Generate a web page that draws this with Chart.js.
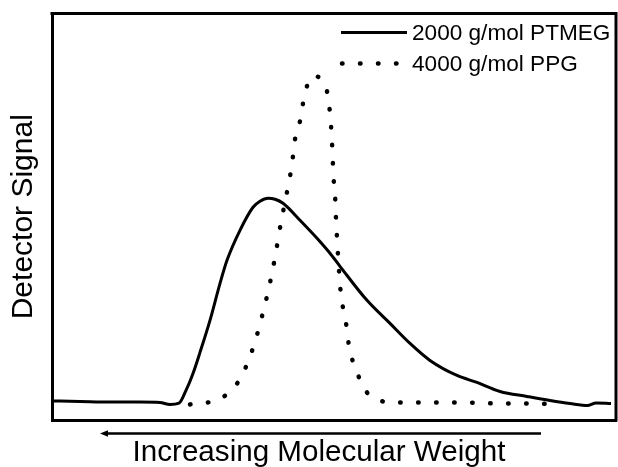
<!DOCTYPE html>
<html>
<head>
<meta charset="utf-8">
<script src="https://cdn.jsdelivr.net/npm/chart.js@4/dist/chart.umd.min.js"></script>
<style>
  html, body { margin: 0; padding: 0; background: #fff; }
  #wrap { width: 618px; height: 467px; position: relative; }
</style>
</head>
<body>
<div id="wrap"><canvas id="c" width="618" height="467"></canvas></div>
<script>
// Elution axis (arbitrary units, 0 = left edge, 100 = right edge) and detector signal (arbitrary units)
const ptmegX = [0.0, 4.96, 10.28, 15.6, 19.15, 20.92, 22.52, 23.76, 25.0, 26.24, 28.01, 29.79, 31.03, 33.33, 35.64, 36.88, 38.3, 39.54, 40.96, 43.97, 46.99, 49.29, 51.06, 55.85, 59.93, 63.48, 67.02, 71.81, 75.35, 79.43, 84.22, 88.3, 91.84, 95.04, 96.45, 99.11];
const ptmegY = [4.68, 4.56, 4.43, 4.43, 4.31, 3.82, 4.14, 7.27, 11.45, 16.63, 24.51, 33.62, 39.29, 46.67, 52.34, 53.82, 54.56, 54.31, 53.33, 49.14, 44.7, 41.01, 37.81, 29.43, 23.77, 18.84, 14.66, 10.96, 9.24, 7.02, 5.79, 4.8, 4.06, 3.57, 4.19, 4.06];

const ppgX = [24.47, 29.43, 32.45, 34.57, 36.17, 37.41, 38.48, 39.54, 40.6, 41.49, 42.55, 43.09, 43.97, 44.68, 46.1, 48.23, 49.29, 49.65, 49.91, 50.18, 50.35, 50.71, 51.24, 51.77, 52.3, 52.66, 53.55, 55.85, 58.16, 60.82, 66.31, 72.87, 79.61, 85.82, 89.18];
const ppgY = [3.82, 5.05, 8.25, 13.67, 20.07, 26.48, 32.64, 40.02, 48.65, 54.8, 62.93, 69.09, 73.52, 79.19, 84.61, 83.13, 75.49, 68.1, 59.73, 55.54, 49.63, 40.52, 30.67, 26.48, 22.29, 18.1, 13.67, 6.77, 4.8, 4.31, 4.31, 4.31, 4.06, 4.06, 3.82];

const seriesLabels = ['2000 g/mol PTMEG', '4000 g/mol PPG'];
const xTitle = 'Increasing Molecular Weight';
const yTitle = 'Detector Signal';

const toPts = (xs, ys) => xs.map((x, i) => ({ x: x, y: ys[i] }));
const DOT_DASH = [0.5, 17.5];

const frameAndExtras = {
  id: 'frameAndExtras',
  afterDraw(chart) {
    const ctx = chart.ctx;
    const a = chart.chartArea;
    ctx.save();
    // top & right frame lines
    ctx.strokeStyle = '#000';
    ctx.lineWidth = 3;
    ctx.beginPath();
    ctx.moveTo(a.left - 1.5, a.top);
    ctx.lineTo(a.right, a.top);
    ctx.lineTo(a.right, a.bottom + 1.5);
    ctx.stroke();

    // legend inside the plot (top right)
    const lx = a.left + 289, ly1 = a.top + 19, ly2 = a.top + 50;
    ctx.lineCap = 'butt';
    ctx.lineWidth = 3;
    ctx.beginPath(); ctx.moveTo(lx, ly1); ctx.lineTo(lx + 66, ly1); ctx.stroke();
    ctx.lineWidth = 4.5; ctx.lineCap = 'round'; ctx.setLineDash(DOT_DASH);
    ctx.beginPath(); ctx.moveTo(lx + 1, ly2); ctx.lineTo(lx + 56, ly2); ctx.stroke();
    ctx.setLineDash([]);
    ctx.fillStyle = '#000';
    ctx.font = '22.6px "Liberation Sans", Arial, sans-serif';
    ctx.textAlign = 'left';
    ctx.textBaseline = 'middle';
    ctx.fillText(seriesLabels[0], lx + 71, ly1 + 1);
    ctx.fillText(seriesLabels[1], lx + 71, ly2 + 1);

    // arrow below the axis
    const ay = a.bottom + 13.5;
    const ax0 = a.left + 48, ax1 = a.left + 489;
    ctx.lineCap = 'butt';
    ctx.lineWidth = 2.6;
    ctx.beginPath(); ctx.moveTo(ax0 + 5, ay); ctx.lineTo(ax1, ay); ctx.stroke();
    ctx.beginPath();
    ctx.moveTo(ax0, ay); ctx.lineTo(ax0 + 8, ay - 3.2); ctx.lineTo(ax0 + 8, ay + 3.2); ctx.closePath();
    ctx.fill();

    // x-axis caption
    ctx.font = '29.6px "Liberation Sans", Arial, sans-serif';
    ctx.textAlign = 'center';
    ctx.fillText(xTitle, a.left + 267, a.bottom + 33);
    ctx.restore();
  }
};

new Chart(document.getElementById('c'), {
  type: 'line',
  data: {
    datasets: [
      {
        label: seriesLabels[0],
        data: toPts(ptmegX, ptmegY),
        borderColor: '#000',
        borderWidth: 3,
        pointRadius: 0,
        cubicInterpolationMode: 'monotone',
        fill: false
      },
      {
        label: seriesLabels[1],
        data: toPts(ppgX, ppgY),
        borderColor: '#000',
        borderWidth: 4.5,
        borderDash: DOT_DASH,
        borderCapStyle: 'round',
        pointRadius: 0,
        cubicInterpolationMode: 'monotone',
        fill: false
      }
    ]
  },
  options: {
    responsive: false,
    animation: false,
    events: [],
    layout: { padding: { top: 13.5, right: 2, bottom: 47, left: 0 } },
    plugins: { legend: { display: false }, tooltip: { enabled: false } },
    scales: {
      x: {
        type: 'linear', min: 0, max: 100,
        grid: { display: false, drawTicks: false },
        ticks: { display: false },
        border: { display: true, color: '#000', width: 3 }
      },
      y: {
        type: 'linear', min: 0, max: 100,
        grid: { display: false, drawTicks: false },
        ticks: { display: false },
        border: { display: true, color: '#000', width: 3 },
        title: {
          display: true, text: yTitle, color: '#000',
          font: { family: '"Liberation Sans", Arial, sans-serif', size: 30, lineHeight: 1 },
          padding: { top: 8.5, bottom: 13.5 }
        }
      }
    }
  },
  plugins: [frameAndExtras]
});
</script>
</body>
</html>
